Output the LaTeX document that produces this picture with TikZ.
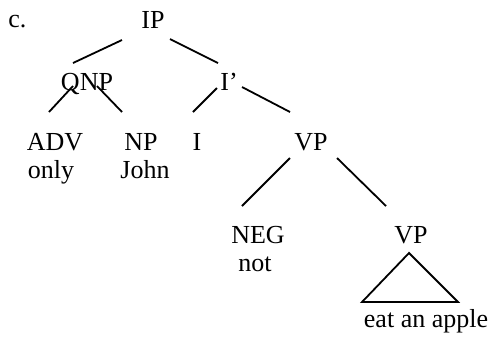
\documentclass[tikz,border=0pt]{standalone}
\usepackage{fontspec}
\setmainfont{Liberation Serif}
\usetikzlibrary{positioning}

\begin{document}
\begin{tikzpicture}[
        x=0.5bp, y=-0.5bp,
        cat/.style={anchor=base, inner sep=0pt, font=\fontsize{13bp}{15bp}\selectfont},
        branch/.style={line width=0.9bp},
        roof/.style={line width=0.9bp, line join=miter}
    ]
        \useasboundingbox (0,0) rectangle (493,340);

        % --- labels ---
        \node[cat, anchor=base west] (tag) at (8,27) {c.};
        \node[cat] (ip) at (153,28) {IP};
        \node[cat] (qnp) at (87,90) {QNP};
        \node[cat] (ibar) at (229,90) {I’};
        \node[cat] (adv) at (55,150) {ADV};
        \node[cat] (only) at (51,178) {only};
        \node[cat] (np) at (141,150) {NP};
        \node[cat] (john) at (145,178) {John};
        \node[cat] (infl) at (197,150) {I};
        \node[cat] (vp) at (311,150) {VP};
        \node[cat] (neg) at (258,243) {NEG};
        \node[cat] (not) at (255,271) {not};
        \node[cat] (vpb) at (411,243) {VP};
        \node[cat] (apple) at (426,327) {eat an apple};

        % --- branch ends ---
        \coordinate (ip-l) at (122,40);   \coordinate (qnp-t) at (73,63);
        \coordinate (ip-r) at (170,39);   \coordinate (ibar-t) at (218,63);
        \coordinate (qnp-l) at (73,86);   \coordinate (adv-t) at (49,112);
        \coordinate (qnp-r) at (97,86);   \coordinate (np-t) at (122,112);
        \coordinate (ibar-l) at (217,88); \coordinate (infl-t) at (193,112);
        \coordinate (ibar-r) at (242,87); \coordinate (vp-t) at (290,112);
        \coordinate (vp-l) at (290,158);  \coordinate (neg-t) at (242,206);
        \coordinate (vp-r) at (337,158);  \coordinate (vpb-t) at (386,206);

        \draw[branch] (ip-l) -- (qnp-t);
        \draw[branch] (ip-r) -- (ibar-t);
        \draw[branch] (qnp-l) -- (adv-t);
        \draw[branch] (qnp-r) -- (np-t);
        \draw[branch] (ibar-l) -- (infl-t);
        \draw[branch] (ibar-r) -- (vp-t);
        \draw[branch] (vp-l) -- (neg-t);
        \draw[branch] (vp-r) -- (vpb-t);

        % --- triangle over the VP ---
        \coordinate (roof-t) at (409,253);
        \coordinate (roof-l) at (362,302);
        \coordinate (roof-r) at (458,302);
        \draw[roof] (roof-t) -- (roof-l) -- (roof-r) -- cycle;
\end{tikzpicture}
\end{document}
